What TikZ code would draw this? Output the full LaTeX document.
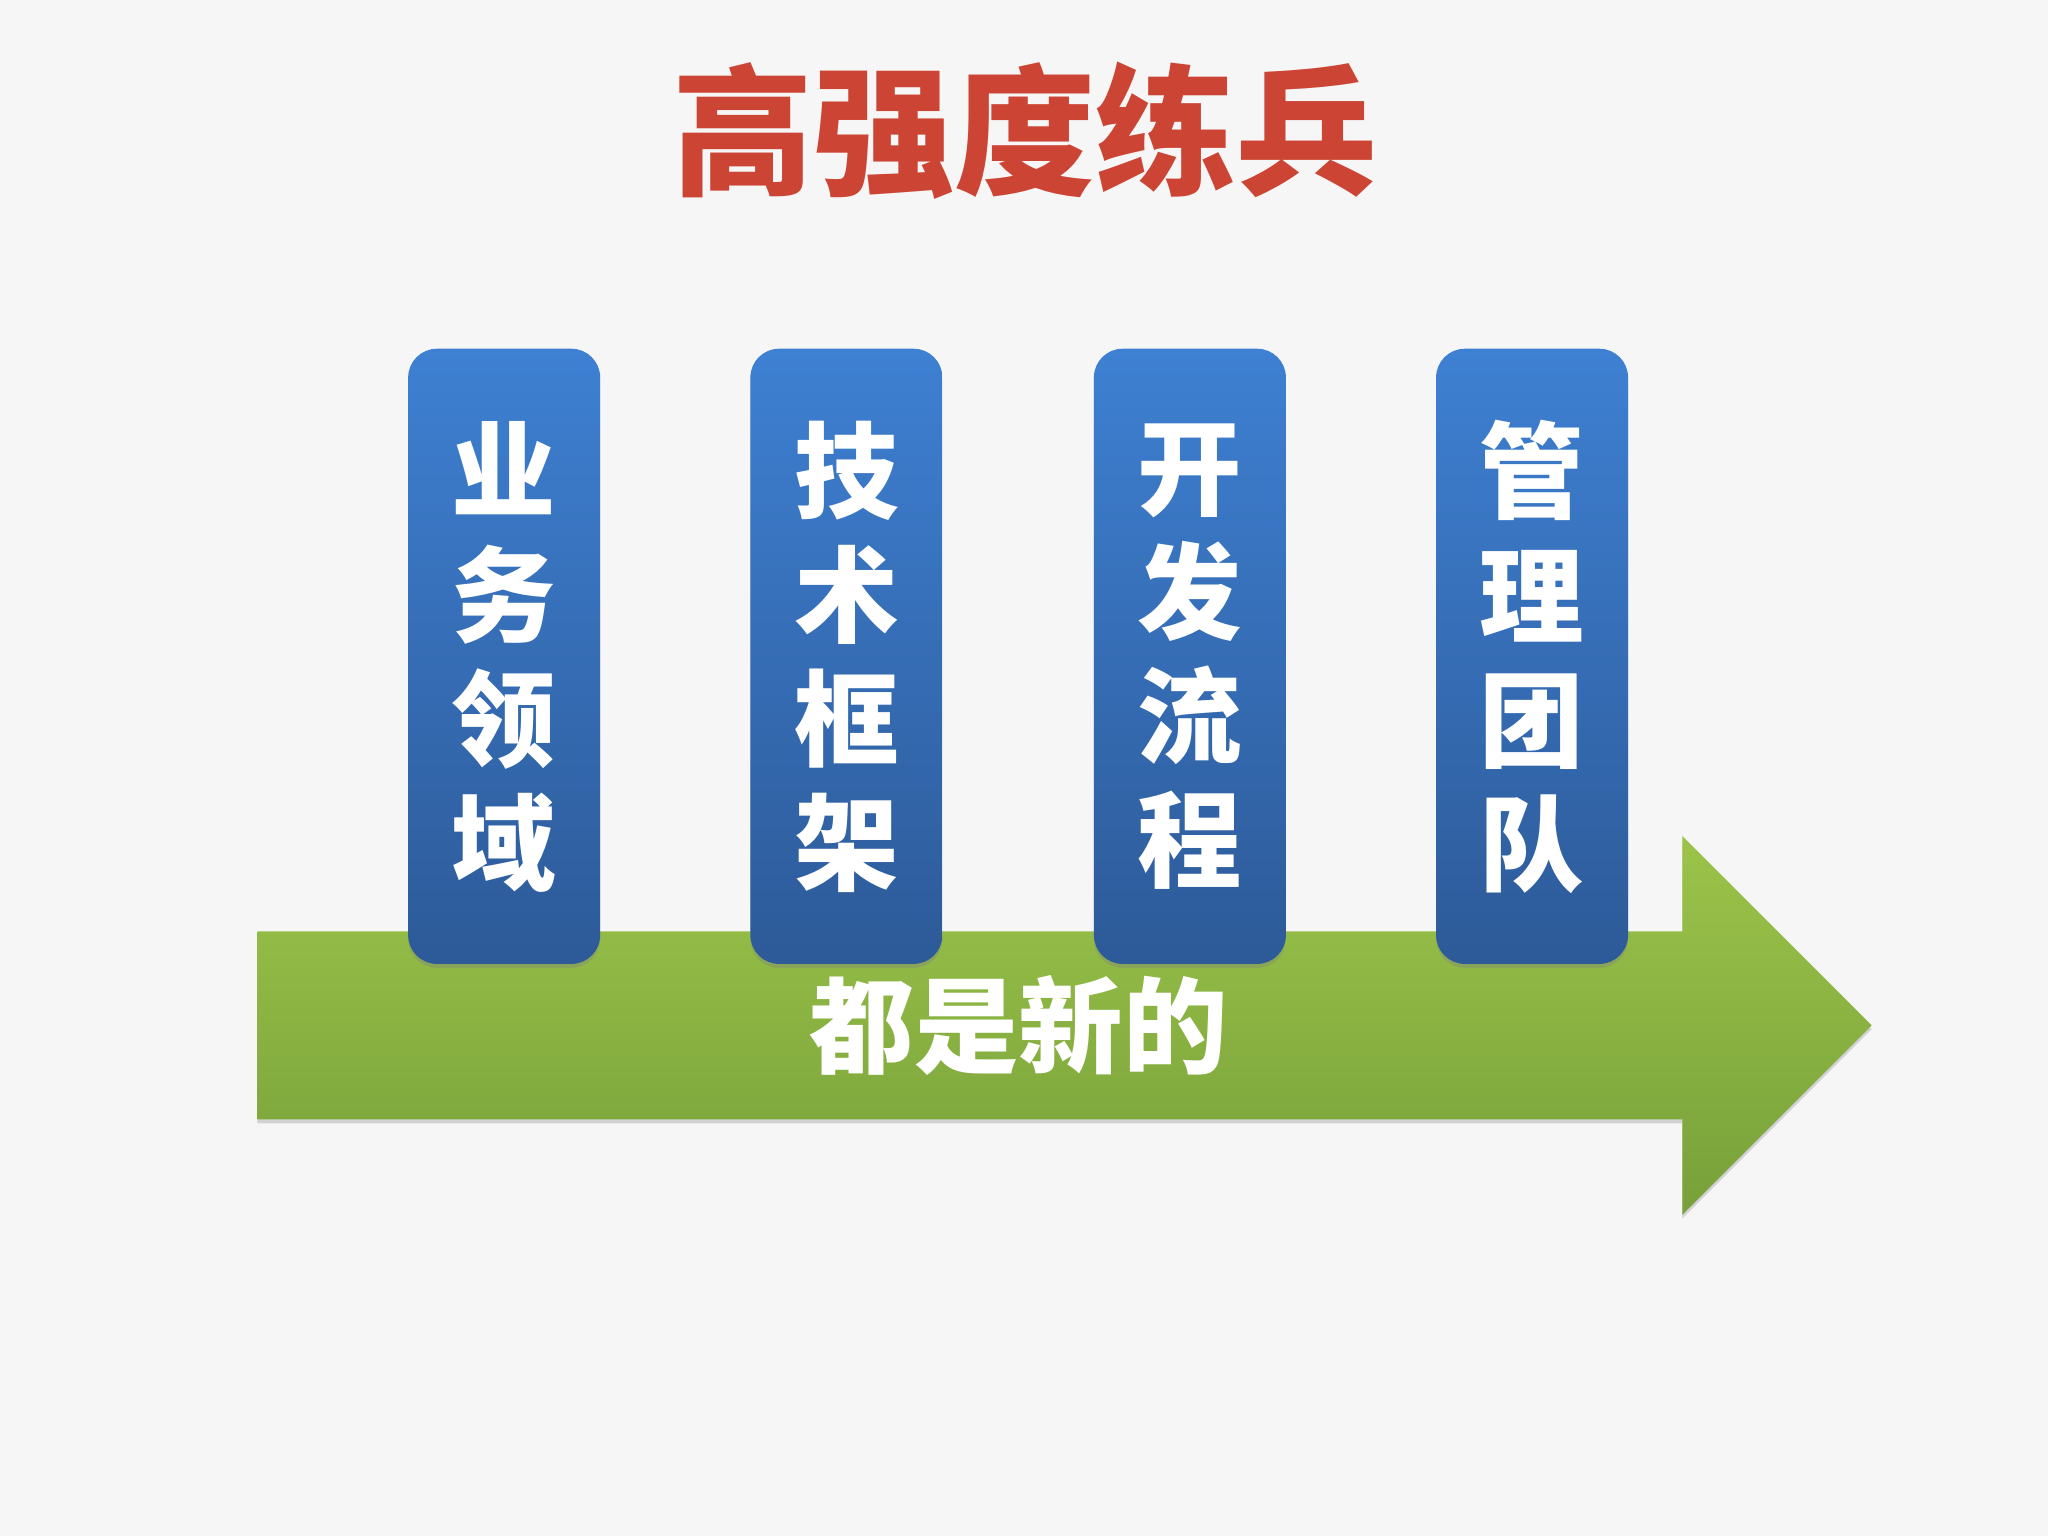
\documentclass[tikz,border=0pt]{standalone}
\usepackage{fontspec}
\newfontfamily\cjk{Noto Sans CJK SC}
\usetikzlibrary{shadows}
\definecolor{bg}{HTML}{F6F6F6}
\definecolor{ttl}{HTML}{CC4433}
\definecolor{gtop}{HTML}{9CC44A}
\definecolor{gbot}{HTML}{77A03A}
\definecolor{btop}{HTML}{3E80D2}
\definecolor{bbot}{HTML}{2D5A98}
\tikzset{
  pillbox/.style={rounded corners=22pt, top color=btop, bottom color=bbot, drop shadow={shadow xshift=0pt,shadow yshift=-3pt,opacity=0.35}},
  vtext/.style={text=white, font=\cjk\bfseries\fontsize{80}{95}\selectfont, align=center, inner sep=0pt}
}
\begin{document}
\begin{tikzpicture}[x=1pt,y=1pt]
\fill[bg] (0,0) rectangle (1568,1176);
\useasboundingbox (0,0) rectangle (1568,1176);
\node[text=ttl, font=\cjk\bfseries\fontsize{108}{110}\selectfont, inner sep=0pt] (title) at (785,1076) {高强度练兵};
\shade[top color=gtop, bottom color=gbot, drop shadow={shadow xshift=0pt,shadow yshift=-3pt,opacity=0.3}]
  (197,463) -- (1288,463) -- (1288,536) -- (1433,391) -- (1288,246) -- (1288,319) -- (197,319) -- cycle;
\node[text=white, font=\cjk\bfseries\fontsize{80}{80}\selectfont, inner sep=0pt] (bottom) at (780,391) {都是新的};
\foreach \x/\a/\b/\c/\d/\n in {386/业/务/领/域/p1, 648/技/术/框/架/p2, 911/开/发/流/程/p3, 1173/管/理/团/队/p4}{
  \path[pillbox] (\x-73.5,438) rectangle (\x+73.5,909);
  \node[vtext] (\n) at (\x,673) {\a\\\b\\\c\\\d};
}
\end{tikzpicture}
\end{document}
